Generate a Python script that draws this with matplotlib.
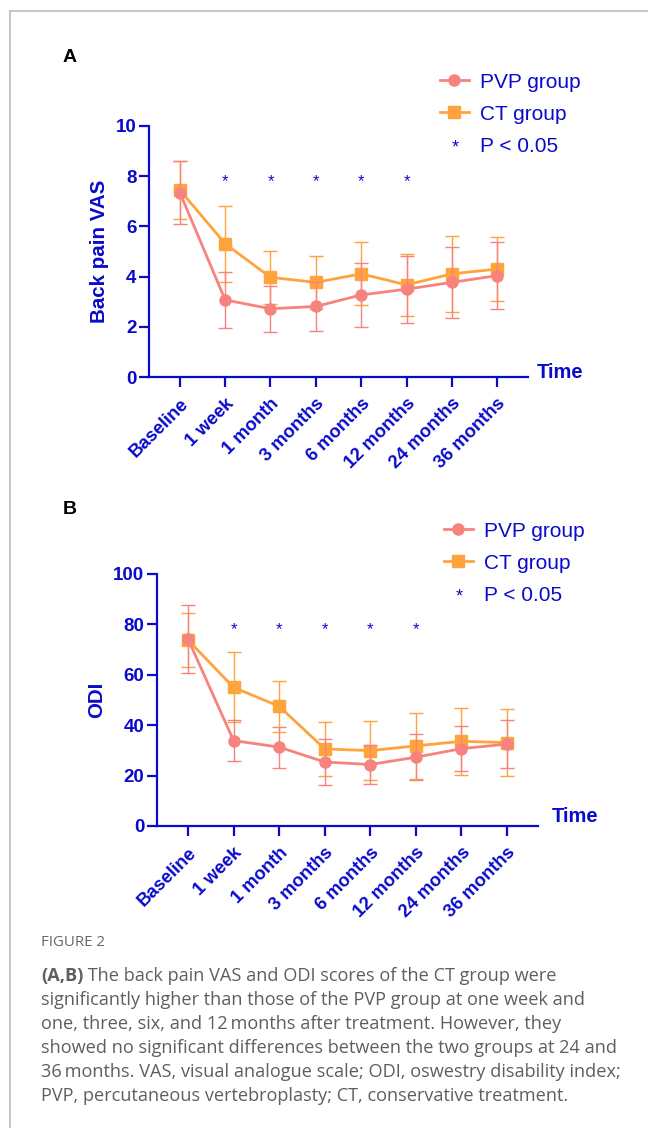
import matplotlib
matplotlib.use("Agg")
import matplotlib.pyplot as plt
from matplotlib.lines import Line2D

# ---------------- data ----------------
timepoints = ['Baseline', '1 week', '1 month', '3 months', '6 months',
              '12 months', '24 months', '36 months']
significant = [False, True, True, True, True, True, False, False]

vas_pvp_mean = [7.35, 3.07, 2.72, 2.81, 3.27, 3.50, 3.77, 4.04]
vas_pvp_sd = [1.25, 1.12, 0.91, 0.97, 1.28, 1.33, 1.40, 1.35]
vas_ct_mean = [7.45, 5.31, 3.97, 3.77, 4.11, 3.67, 4.11, 4.30]
vas_ct_sd = [1.15, 1.51, 1.05, 1.05, 1.25, 1.25, 1.52, 1.28]

odi_pvp_mean = [74.2, 33.9, 31.3, 25.4, 24.4, 27.3, 30.7, 32.5]
odi_pvp_sd = [13.4, 8.3, 8.1, 9.2, 7.8, 9.1, 8.9, 9.5]
odi_ct_mean = [73.8, 55.0, 47.5, 30.6, 29.9, 31.8, 33.6, 33.1]
odi_ct_sd = [10.8, 13.9, 10.1, 10.7, 11.8, 13.0, 13.3, 13.4]

vas_ticks = [0, 2, 4, 6, 8, 10]
odi_ticks = [0, 20, 40, 60, 80, 100]

# ---------------- style ----------------
BLUE = '#0A0ACC'
PINK = '#F7837F'
ORANGE = '#FFA33C'
FONT = ['Liberation Sans', 'DejaVu Sans']

W, H = 648, 1128
fig = plt.figure(figsize=(W / 100, H / 100), dpi=100)


def fx(px):
    return px / W


def fy(py):
    return 1 - py / H


def panel(rect, pvp_m, pvp_s, ct_m, ct_s, ticks, ylab, star_y, ymax):
    ax = fig.add_axes(rect)
    x = list(range(len(timepoints)))
    ax.errorbar(x, ct_m, yerr=ct_s, color=ORANGE, lw=2.0, marker='s', ms=8,
                ecolor=ORANGE, elinewidth=1.0, capsize=5, capthick=1.0,
                clip_on=False, zorder=3)
    ax.errorbar(x, pvp_m, yerr=pvp_s, color=PINK, lw=2.0, marker='o', ms=8,
                ecolor=PINK, elinewidth=1.0, capsize=5, capthick=1.0,
                clip_on=False, zorder=4)
    for xi, s in zip(x, significant):
        if s:
            ax.text(xi, star_y, '*', color=BLUE, ha='center', va='center',
                    fontsize=12, family=FONT)
    ax.set_xlim(-0.68, 7.68)
    ax.set_ylim(0, ymax)
    ax.set_yticks(ticks)
    ax.set_yticklabels([str(t) for t in ticks], fontsize=13.5,
                       fontweight='bold', color=BLUE, family=FONT)
    ax.set_xticks(x)
    ax.set_xticklabels(timepoints, rotation=45, ha='right',
                       rotation_mode='anchor', fontsize=13.2,
                       fontweight='bold', color=BLUE, family=FONT)
    for side in ('top', 'right'):
        ax.spines[side].set_visible(False)
    for side in ('left', 'bottom'):
        ax.spines[side].set_color(BLUE)
        ax.spines[side].set_linewidth(1.6)
    ax.tick_params(axis='both', colors=BLUE, width=1.6, length=7)
    ax.tick_params(axis='x', pad=6)
    ax.tick_params(axis='y', pad=2)
    ax.set_ylabel(ylab, fontsize=14.8, fontweight='bold', color=BLUE,
                  family=FONT, labelpad=5)
    ax.set_facecolor('none')
    return ax


axA = panel([fx(149), fy(377), fx(528) - fx(149), fy(126) - fy(377)],
            vas_pvp_mean, vas_pvp_sd, vas_ct_mean, vas_ct_sd,
            vas_ticks, 'Back pain VAS', 7.8, 10)
axB = panel([fx(157), fy(826), fx(538) - fx(157), fy(574) - fy(826)],
            odi_pvp_mean, odi_pvp_sd, odi_ct_mean, odi_ct_sd,
            odi_ticks, 'ODI', 78, 100)

for ax, tx, ty in ((axA, 537, 372), (axB, 552, 817)):
    fig.text(fx(tx), fy(ty), 'Time', fontsize=14.5, fontweight='bold',
             color=BLUE, family=FONT, ha='left', va='center')

# legends
handles = [
    Line2D([], [], color=PINK, lw=2.0, marker='o', ms=8),
    Line2D([], [], color=ORANGE, lw=2.0, marker='s', ms=8),
    Line2D([], [], color='none', ls='none'),
]
labels = ['PVP group', 'CT group', 'P < 0.05']
for ax, lx, ly, sx, sy in ((axA, 421, 54, 455, 148),
                           (axB, 425, 503, 459, 597)):
    fig.legend(handles, labels, loc='upper left',
               bbox_to_anchor=(fx(lx), fy(ly)), frameon=False,
               prop={'family': FONT, 'size': 15},
               labelcolor=BLUE, handlelength=1.4, handletextpad=0.55,
               labelspacing=0.62)
    fig.text(fx(sx), fy(sy), '*', fontsize=13, color=BLUE, family=FONT,
             ha='center', va='center')

# panel letters
fig.text(fx(63), fy(58), 'A', fontsize=14, fontweight='bold', color='black',
         family=FONT, va='center')
fig.text(fx(63), fy(510), 'B', fontsize=14, fontweight='bold', color='black',
         family=FONT, va='center')

# border lines
fig.add_artist(Line2D([fx(10), fx(10)], [fy(11), 0], color='#BDBDBD', lw=1.2))
fig.add_artist(Line2D([fx(10), 1], [fy(11), fy(11)], color='#BDBDBD', lw=1.2))

# caption
CAPFONT = ['Open Sans', 'DejaVu Sans']
CAPCOL = '#5E5E5E'
fig.text(fx(41), fy(942), 'FIGURE 2', fontsize=10.8, color='#666666',
         family=CAPFONT, va='center')
cap_lines = [
    ' The back pain VAS and ODI scores of the CT group were',
    'significantly higher than those of the PVP group at one week and',
    'one, three, six, and 12\u2009months after treatment. However, they',
    'showed no significant differences between the two groups at 24 and',
    '36\u2009months. VAS, visual analogue scale; ODI, oswestry disability index;',
    'PVP, percutaneous vertebroplasty; CT, conservative treatment.',
]
cap_y = [981, 1005, 1029, 1053, 1077, 1101]
CAPSIZE = 13.1
t0 = fig.text(fx(41), fy(cap_y[0]), '(A,B)', fontsize=CAPSIZE, color=CAPCOL,
              fontweight='bold', family=CAPFONT, va='baseline')
axA.annotate(cap_lines[0], xy=(1, 0), xycoords=t0, va='bottom', ha='left',
             fontsize=CAPSIZE, color=CAPCOL, family=CAPFONT,
             annotation_clip=False)
for line, yy in zip(cap_lines[1:], cap_y[1:]):
    fig.text(fx(41), fy(yy), line, fontsize=CAPSIZE, color=CAPCOL,
             family=CAPFONT, va='baseline')

fig.savefig('out.png', dpi=100)
